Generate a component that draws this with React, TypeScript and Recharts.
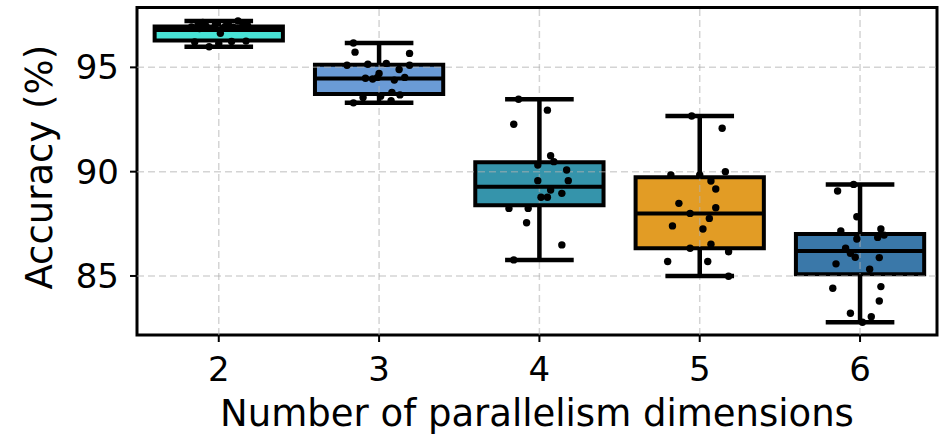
import React from 'react';
import { ComposedChart, XAxis, YAxis, Scatter, ReferenceArea, ReferenceLine, Label } from 'recharts';

// parallelism dimensions (categories)
const dims = [2, 3, 4, 5, 6];
const boxColors = ['#48e3d6', '#6a9bd6', '#3594ab', '#e29c25', '#3a78a9'];

// box statistics (accuracy %)
const whiskerLow = [95.99, 93.3, 85.77, 85.0, 82.78];
const q1 = [96.29, 93.72, 88.39, 86.33, 85.08];
const median = [96.79, 94.47, 89.28, 88.0, 86.2];
const q3 = [96.96, 95.12, 90.45, 89.73, 87.01];
const whiskerHigh = [97.22, 96.17, 93.47, 92.67, 89.39];

// individual runs (accuracy) and their horizontal jitter
const acc2 = [97.22, 96.63, 95.99, 96.15, 96.22, 96.24, 96.26, 96.86, 96.88, 96.9, 96.92, 96.94, 96.96, 96.98, 97.0, 97.02, 97.05, 97.08, 97.1, 97.15];
const jit2 = [0.12, 0.01, -0.06, 0.0, -0.15, 0.08, 0.17, -0.12, 0.14, -0.03, 0.09, -0.17, 0.04, -0.08, 0.18, -0.13, 0.06, -0.02, 0.15, -0.1];

const acc3 = [96.17, 95.73, 95.67, 95.19, 94.9, 94.71, 94.52, 94.39, 94.52, 93.3, 93.4, 93.55, 93.62, 93.68, 95.1, 95.1, 94.48, 94.44, 93.8, 95.15];
const jit3 = [-0.16, -0.15, 0.19, 0.045, 0.125, 0.0, -0.01, 0.095, 0.16, -0.16, 0.075, -0.1, 0.01, 0.13, -0.2, 0.19, -0.085, -0.04, 0.08, -0.07];

const acc4 = [93.47, 92.95, 92.27, 90.76, 90.48, 90.32, 90.08, 89.57, 89.57, 89.12, 88.96, 88.77, 88.77, 88.24, 88.24, 87.55, 86.49, 85.77];
const jit4 = [-0.13, 0.05, -0.16, 0.07, 0.09, -0.01, 0.17, -0.01, 0.18, 0.07, 0.14, 0.01, 0.05, -0.19, -0.07, -0.08, 0.14, -0.16];

const acc5 = [92.67, 92.08, 89.84, 89.84, 90.0, 89.55, 89.17, 88.48, 88.27, 87.76, 87.4, 87.25, 86.52, 86.16, 85.69, 85.69, 84.99, 88.0, 86.33];
const jit5 = [-0.05, 0.14, -0.18, 0.0, 0.16, 0.07, 0.1, -0.13, 0.1, 0.06, -0.17, 0.02, 0.07, 0.18, -0.2, 0.05, 0.18, -0.06, -0.06];

const acc6 = [89.39, 89.07, 87.84, 87.16, 87.25, 86.96, 86.85, 86.77, 86.33, 86.09, 85.9, 85.88, 85.58, 85.32, 84.41, 84.49, 83.8, 83.21, 83.05, 82.78];
const jit6 = [-0.04, -0.14, -0.02, -0.12, 0.13, 0.15, 0.11, -0.02, -0.09, -0.06, -0.03, 0.12, -0.15, 0.06, -0.17, 0.13, 0.12, -0.06, 0.07, 0.015];

const yTicks = [85, 90, 95];
const xDomain = [1.49, 6.48];
const yDomain = [82.17, 97.87];

const groups = [
  { acc: acc2, jit: jit2 },
  { acc: acc3, jit: jit3 },
  { acc: acc4, jit: jit4 },
  { acc: acc5, jit: jit5 },
  { acc: acc6, jit: jit6 },
];

const points = dims.flatMap((d, i) =>
  groups[i].acc.map((v, j) => ({ x: d + groups[i].jit[j], y: v }))
);

const FONT = 'DejaVu Sans';
const tickStyle = { fontSize: 34, fill: '#000', fontFamily: FONT };

const Dot = (props: any) => <circle cx={props.cx} cy={props.cy} r={3.7} fill="#000" />;

export default function App() {
  return (
    <div style={{ position: 'absolute', left: 0, top: 0 }}>
      <ComposedChart width={941} height={439} margin={{ top: 7.5, right: 4, left: 0, bottom: 0 }}>
        <XAxis
          type="number"
          dataKey="x"
          domain={xDomain}
          allowDataOverflow
          ticks={dims}
          tick={tickStyle}
          tickSize={7}
          tickMargin={15}
          tickLine={{ stroke: '#000', strokeWidth: 2 }}
          axisLine={false}
          height={104}
        >
          <Label
            content={(p: any) => (
              <text
                x={p.viewBox.x + p.viewBox.width / 2}
                y={p.viewBox.y + 91}
                textAnchor="middle"
                fontSize={37}
                fontFamily={FONT}
                fill="#000"
              >
                Number of parallelism dimensions
              </text>
            )}
          />
        </XAxis>
        <YAxis
          type="number"
          dataKey="y"
          domain={yDomain}
          allowDataOverflow
          ticks={yTicks}
          tick={tickStyle}
          tickSize={7}
          tickMargin={11}
          tickLine={{ stroke: '#000', strokeWidth: 2 }}
          axisLine={false}
          width={137}
        >
          <Label
            content={(p: any) => {
              const cy = p.viewBox.y + p.viewBox.height / 2 - 4;
              return (
                <text
                  x={52}
                  y={cy}
                  transform={`rotate(-90, 52, ${cy})`}
                  textAnchor="middle"
                  fontSize={37}
                  fontFamily={FONT}
                  fill="#000"
                >
                  Accuracy (%)
                </text>
              );
            }}
          />
        </YAxis>

        {dims.map((d, i) => (
          <ReferenceArea
            key={'box' + d}
            x1={d - 0.4}
            x2={d + 0.4}
            y1={q1[i]}
            y2={q3[i]}
            fill={boxColors[i]}
            fillOpacity={1}
            stroke="#000"
            strokeWidth={4}
            ifOverflow="visible"
          />
        ))}

        {/* dashed grid: above the box patches, below the box lines */}
        {dims.map((d) => (
          <ReferenceLine key={'gx' + d} x={d} stroke="#b0b0b0" strokeOpacity={0.55} strokeWidth={1.5} strokeDasharray="7 4" />
        ))}
        {yTicks.map((t) => (
          <ReferenceLine key={'gy' + t} y={t} stroke="#b0b0b0" strokeOpacity={0.55} strokeWidth={1.5} strokeDasharray="7 4" />
        ))}

        {dims.map((d, i) => (
          <ReferenceLine
            key={'med' + d}
            segment={[{ x: d - 0.4, y: median[i] }, { x: d + 0.4, y: median[i] }]}
            stroke="#000"
            strokeWidth={4}
            ifOverflow="visible"
          />
        ))}
        {dims.map((d, i) => (
          <ReferenceLine
            key={'wh' + d}
            segment={[{ x: d, y: q3[i] }, { x: d, y: whiskerHigh[i] }]}
            stroke="#000"
            strokeWidth={4.5}
            ifOverflow="visible"
          />
        ))}
        {dims.map((d, i) => (
          <ReferenceLine
            key={'wl' + d}
            segment={[{ x: d, y: q1[i] }, { x: d, y: whiskerLow[i] }]}
            stroke="#000"
            strokeWidth={4.5}
            ifOverflow="visible"
          />
        ))}
        {dims.map((d, i) => (
          <ReferenceLine
            key={'ch' + d}
            segment={[{ x: d - 0.2, y: whiskerHigh[i] }, { x: d + 0.2, y: whiskerHigh[i] }]}
            stroke="#000"
            strokeWidth={4.5}
            strokeLinecap="square"
            ifOverflow="visible"
          />
        ))}
        {dims.map((d, i) => (
          <ReferenceLine
            key={'cl' + d}
            segment={[{ x: d - 0.2, y: whiskerLow[i] }, { x: d + 0.2, y: whiskerLow[i] }]}
            stroke="#000"
            strokeWidth={4.5}
            strokeLinecap="square"
            ifOverflow="visible"
          />
        ))}

        <Scatter data={points} dataKey="y" shape={Dot} isAnimationActive={false} />

        {/* plot frame */}
        <ReferenceArea
          x1={xDomain[0]}
          x2={xDomain[1]}
          y1={yDomain[0]}
          y2={yDomain[1]}
          fill="none"
          stroke="#000"
          strokeWidth={3}
          ifOverflow="visible"
        />
      </ComposedChart>
    </div>
  );
}
